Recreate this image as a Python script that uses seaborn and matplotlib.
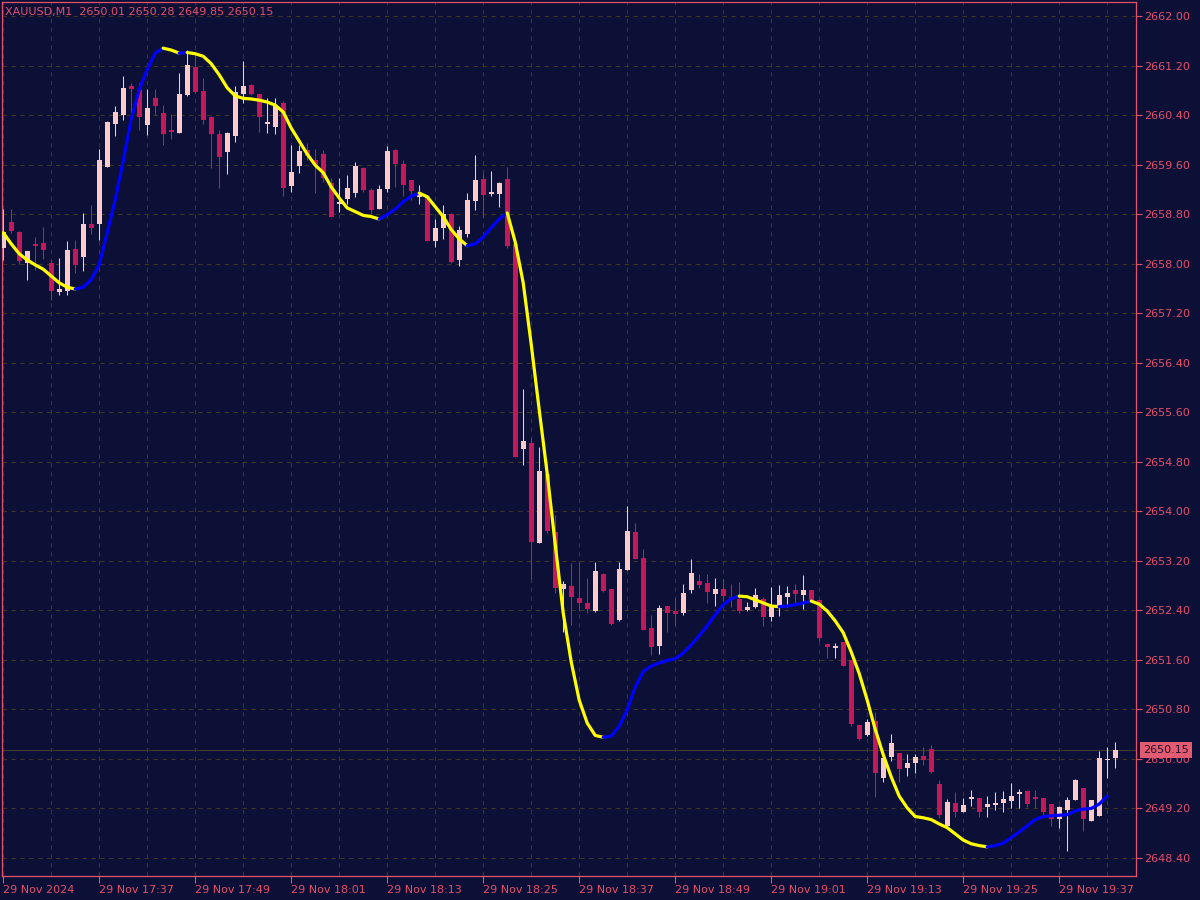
import numpy as np
import matplotlib
matplotlib.use("Agg")
import matplotlib.pyplot as plt
import matplotlib.transforms as mtransforms
import seaborn as sns

# ---- data (XAUUSD M1, 29 Nov 2024 17:25 - 19:44) ----
opens = [
    2658.25, 2658.67, 2658.51, 2658.01, 2658.32, 2658.34, 2658.01, 2657.54, 2657.56, 2658.24,
    2658.11, 2658.64, 2658.64, 2659.56, 2660.25, 2660.40, 2660.87, 2660.81, 2660.24, 2660.68,
    2660.43, 2660.16, 2660.11, 2660.73, 2661.18, 2660.79, 2660.37, 2660.09, 2659.80, 2660.06,
    2660.74, 2660.89, 2660.74, 2660.25, 2660.20, 2660.59, 2659.25, 2659.58, 2659.83, 2659.67,
    2659.77, 2659.30, 2658.97, 2659.05, 2659.14, 2659.55, 2659.19, 2658.88, 2659.21, 2659.83,
    2659.61, 2659.35, 2659.08, 2659.09, 2658.37, 2658.58, 2658.80, 2658.06, 2658.48, 2659.01,
    2659.37, 2659.13, 2659.13, 2659.37, 2658.32, 2655.01, 2655.11, 2653.49, 2654.60, 2653.66,
    2652.74, 2652.79, 2652.60, 2652.52, 2652.39, 2652.99, 2652.74, 2652.25, 2653.05, 2653.66,
    2653.24, 2652.12, 2651.83, 2652.47, 2652.39, 2652.36, 2652.73, 2652.87, 2652.84, 2652.66,
    2652.74, 2652.62, 2652.58, 2652.41, 2652.46, 2652.58, 2652.30, 2652.47, 2652.62, 2652.73,
    2652.65, 2652.73, 2652.57, 2651.86, 2651.79, 2651.89, 2651.60, 2650.55, 2650.38, 2650.61,
    2649.69, 2650.03, 2650.09, 2649.85, 2649.93, 2650.04, 2650.16, 2649.60, 2648.92, 2649.29,
    2649.15, 2649.36, 2649.37, 2649.23, 2649.26, 2649.29, 2649.32, 2649.44, 2649.48, 2649.39,
    2649.37, 2649.28, 2649.03, 2649.18, 2649.34, 2649.53, 2649.00, 2649.08, 2649.98, 2650.01,
]
highs = [
    2658.88, 2658.88, 2658.53, 2658.21, 2658.43, 2658.59, 2658.06, 2658.09, 2658.37, 2658.38,
    2658.82, 2658.95, 2659.85, 2660.30, 2660.54, 2661.03, 2660.92, 2660.92, 2660.82, 2660.82,
    2660.56, 2660.41, 2661.08, 2661.45, 2661.37, 2661.00, 2660.38, 2660.16, 2660.12, 2660.87,
    2661.27, 2660.90, 2660.74, 2660.68, 2660.68, 2660.62, 2659.91, 2659.91, 2659.95, 2659.85,
    2659.83, 2659.38, 2659.38, 2659.43, 2659.64, 2659.56, 2659.22, 2659.27, 2659.90, 2659.85,
    2659.67, 2659.35, 2659.27, 2659.11, 2658.72, 2658.95, 2658.82, 2658.61, 2659.14, 2659.75,
    2659.46, 2659.50, 2659.32, 2659.56, 2658.32, 2655.97, 2655.19, 2655.04, 2654.78, 2653.94,
    2652.87, 2653.16, 2653.18, 2652.92, 2653.18, 2653.00, 2652.74, 2653.18, 2654.08, 2653.81,
    2653.39, 2652.33, 2652.49, 2652.47, 2652.60, 2652.82, 2653.23, 2652.99, 2652.99, 2652.92,
    2652.91, 2652.82, 2652.86, 2652.54, 2652.76, 2652.62, 2652.78, 2652.81, 2652.79, 2652.82,
    2652.97, 2652.73, 2652.57, 2651.86, 2651.88, 2651.89, 2651.60, 2650.55, 2650.64, 2650.76,
    2650.11, 2650.40, 2650.09, 2650.08, 2650.08, 2650.19, 2650.22, 2649.66, 2649.36, 2649.47,
    2649.37, 2649.50, 2649.37, 2649.40, 2649.47, 2649.48, 2649.61, 2649.52, 2649.50, 2649.50,
    2649.37, 2649.28, 2649.24, 2649.39, 2649.68, 2649.53, 2649.34, 2650.13, 2650.19, 2650.28,
]
lows = [
    2658.06, 2658.50, 2657.99, 2657.74, 2657.90, 2658.08, 2657.41, 2657.50, 2657.50, 2657.85,
    2657.88, 2658.48, 2658.38, 2659.56, 2660.06, 2660.32, 2660.40, 2660.16, 2660.08, 2660.40,
    2659.91, 2660.01, 2660.11, 2660.71, 2660.76, 2660.25, 2659.55, 2659.22, 2659.45, 2659.96,
    2660.59, 2660.73, 2660.12, 2660.11, 2660.09, 2659.09, 2659.16, 2659.46, 2659.67, 2659.14,
    2659.32, 2658.76, 2658.84, 2658.97, 2659.08, 2659.16, 2658.80, 2658.88, 2659.16, 2659.24,
    2659.09, 2659.03, 2658.97, 2658.37, 2658.27, 2658.40, 2658.01, 2657.96, 2658.43, 2658.87,
    2658.76, 2659.09, 2658.92, 2658.25, 2654.88, 2654.75, 2652.90, 2653.49, 2653.65, 2652.68,
    2652.05, 2652.17, 2652.39, 2652.36, 2652.38, 2652.70, 2652.17, 2652.23, 2653.05, 2653.23,
    2652.09, 2651.68, 2651.70, 2652.05, 2652.17, 2652.33, 2652.68, 2652.76, 2652.52, 2652.47,
    2652.55, 2652.46, 2652.36, 2652.39, 2652.44, 2652.14, 2652.23, 2652.31, 2652.46, 2652.52,
    2652.42, 2652.54, 2651.91, 2651.63, 2651.63, 2651.50, 2650.53, 2650.30, 2650.37, 2649.38,
    2649.63, 2649.97, 2649.63, 2649.72, 2649.77, 2649.90, 2649.77, 2649.05, 2648.92, 2649.07,
    2649.15, 2649.24, 2649.07, 2649.07, 2649.18, 2649.15, 2649.20, 2649.21, 2649.23, 2649.21,
    2649.07, 2648.92, 2648.89, 2648.52, 2649.34, 2648.84, 2649.00, 2649.08, 2649.69, 2649.85,
]
closes = [
    2658.51, 2658.53, 2658.04, 2658.21, 2658.29, 2658.22, 2657.56, 2657.59, 2658.22, 2657.98,
    2658.64, 2658.58, 2659.67, 2660.29, 2660.45, 2660.84, 2660.82, 2660.37, 2660.51, 2660.54,
    2660.09, 2660.12, 2660.74, 2661.21, 2660.77, 2660.32, 2660.09, 2659.72, 2660.11, 2660.77,
    2660.87, 2660.74, 2660.37, 2660.29, 2660.54, 2659.22, 2659.48, 2659.82, 2659.74, 2659.59,
    2659.38, 2658.76, 2658.98, 2659.22, 2659.58, 2659.19, 2658.87, 2659.21, 2659.82, 2659.61,
    2659.27, 2659.17, 2659.11, 2658.37, 2658.58, 2658.80, 2658.03, 2658.54, 2659.03, 2659.35,
    2659.11, 2659.16, 2659.30, 2658.29, 2654.88, 2655.14, 2653.50, 2654.65, 2653.68, 2652.76,
    2652.82, 2652.62, 2652.52, 2652.42, 2653.03, 2652.71, 2652.18, 2653.07, 2653.68, 2653.23,
    2652.09, 2651.80, 2652.44, 2652.36, 2652.34, 2652.68, 2653.00, 2652.81, 2652.70, 2652.74,
    2652.63, 2652.57, 2652.39, 2652.46, 2652.65, 2652.30, 2652.46, 2652.65, 2652.68, 2652.66,
    2652.73, 2652.57, 2651.96, 2651.81, 2651.83, 2651.50, 2650.56, 2650.32, 2650.59, 2649.77,
    2650.01, 2650.26, 2649.83, 2649.93, 2650.03, 2649.98, 2649.79, 2649.10, 2649.31, 2649.15,
    2649.26, 2649.39, 2649.15, 2649.28, 2649.29, 2649.36, 2649.40, 2649.45, 2649.28, 2649.36,
    2649.15, 2649.03, 2649.23, 2649.34, 2649.66, 2649.03, 2649.34, 2650.01, 2650.00, 2650.15,
]
# smoothed trend line (yellow = falling, blue = rising)
trend = [
    2658.50, 2658.32, 2658.16, 2658.06, 2657.98, 2657.91, 2657.80, 2657.69, 2657.62, 2657.59,
    2657.62, 2657.74, 2657.98, 2658.50, 2659.03, 2659.66, 2660.33, 2660.81, 2661.13, 2661.40,
    2661.48, 2661.45, 2661.40, 2661.41, 2661.39, 2661.35, 2661.23, 2661.05, 2660.84, 2660.71,
    2660.67, 2660.66, 2660.64, 2660.61, 2660.56, 2660.45, 2660.19, 2659.98, 2659.77, 2659.59,
    2659.47, 2659.24, 2659.06, 2658.90, 2658.84, 2658.78, 2658.76, 2658.72, 2658.79, 2658.88,
    2659.00, 2659.09, 2659.14, 2659.08, 2658.92, 2658.76, 2658.55, 2658.40, 2658.29, 2658.32,
    2658.43, 2658.58, 2658.72, 2658.82, 2658.35, 2657.69, 2656.70, 2655.64, 2654.61, 2653.47,
    2652.36, 2651.57, 2650.95, 2650.58, 2650.38, 2650.35, 2650.37, 2650.53, 2650.79, 2651.16,
    2651.41, 2651.50, 2651.55, 2651.59, 2651.62, 2651.71, 2651.84, 2651.99, 2652.15, 2652.33,
    2652.49, 2652.59, 2652.63, 2652.62, 2652.57, 2652.52, 2652.47, 2652.46, 2652.47, 2652.49,
    2652.52, 2652.55, 2652.50, 2652.39, 2652.23, 2652.04, 2651.73, 2651.38, 2650.95, 2650.48,
    2650.07, 2649.71, 2649.40, 2649.21, 2649.07, 2649.05, 2649.02, 2648.95, 2648.89, 2648.79,
    2648.69, 2648.63, 2648.60, 2648.58, 2648.60, 2648.64, 2648.73, 2648.82, 2648.92, 2649.02,
    2649.07, 2649.08, 2649.09, 2649.10, 2649.16, 2649.19, 2649.20, 2649.27, 2649.40,
]

x_tick_pos = [0, 12, 24, 36, 48, 60, 72, 84, 96, 108, 120, 132]
x_tick_labels = ["29 Nov 2024", "29 Nov 17:37", "29 Nov 17:49", "29 Nov 18:01",
                 "29 Nov 18:13", "29 Nov 18:25", "29 Nov 18:37", "29 Nov 18:49",
                 "29 Nov 19:01", "29 Nov 19:13", "29 Nov 19:25", "29 Nov 19:37"]
x_grid_pos = [6, 18, 30, 42, 54, 66, 78, 90, 102, 114, 126, 138]
y_ticks = [2648.40, 2649.20, 2650.00, 2650.80, 2651.60, 2652.40, 2653.20, 2654.00,
           2654.80, 2655.60, 2656.40, 2657.20, 2658.00, 2658.80, 2659.60, 2660.40,
           2661.20, 2662.00]
symbol = "XAUUSD,M1"
last_price = 2650.15

# ---- style ----
BG = "#0d1036"
FG = "#e4506a"
GRID = "#3b3525"
BULL = "#f8caca"
BEAR = "#c3185a"

sns.set_style("dark", {"axes.facecolor": BG, "figure.facecolor": BG})
plt.rcParams["font.family"] = ["DejaVu Sans"]
plt.rcParams["font.size"] = 8

fig = plt.figure(figsize=(12, 9), dpi=100)
fig.patch.set_facecolor(BG)
ax = fig.add_axes([2 / 1200, 24 / 900, 1134 / 1200, 874 / 900])
ax.set_facecolor(BG)

idx = np.arange(len(opens))
o = np.array(opens)
c = np.array(closes)
h = np.array(highs)
l = np.array(lows)
up = c >= o

# wicks
ax.vlines(idx[up], l[up], h[up], color=BULL, lw=0.75, zorder=2)
ax.vlines(idx[~up], l[~up], h[~up], color=BEAR, lw=0.75, zorder=2)
# bodies (min height so dojis still show)
body_lo = np.minimum(o, c)
body_h = np.maximum(np.abs(c - o), 0.025)
ax.bar(idx[up], body_h[up], bottom=body_lo[up], width=0.62, color=BULL, lw=0, zorder=3)
ax.bar(idx[~up], body_h[~up], bottom=body_lo[~up], width=0.62, color=BEAR, lw=0, zorder=3)

# trend line, coloured by direction
tv = np.array(trend)
seg_up = np.diff(tv) >= 0
start = 0
for i in range(1, len(seg_up) + 1):
    if i == len(seg_up) or seg_up[i] != seg_up[start]:
        xs = idx[start:i + 1]
        ys = tv[start:i + 1]
        sns.lineplot(x=xs, y=ys, ax=ax, color="#0000ff" if seg_up[start] else "#ffff00",
                     lw=2.3, estimator=None, sort=False, zorder=4)
        start = i

# current price line
ax.axhline(last_price, color="#3d3a33", lw=0.8, zorder=1)

# axes, grid, ticks
ax.set_xlim(-0.15, 141.6)
ax.set_ylim(2648.109, 2662.226)
ax.set_yticks(y_ticks)
ax.set_yticklabels([f"{v:.2f}" for v in y_ticks])
ax.yaxis.tick_right()
ax.set_xticks(x_tick_pos)
ax.set_xticklabels(x_tick_labels, ha="left")
ax.set_xticks(x_grid_pos, minor=True)
ax.tick_params(axis="x", which="major", length=5, width=0.8, color=FG,
               labelcolor=FG, labelsize=8, pad=1.5, bottom=True)
ax.tick_params(axis="x", which="minor", length=0)
ax.tick_params(axis="y", length=4, width=0.8, color=FG, labelcolor=FG,
               labelsize=8, pad=2, right=True, left=False)
ax.grid(True, which="both", axis="both", color=GRID, lw=0.8, linestyle=(0, (4, 4)))
ax.set_axisbelow(True)
ax.set_xlabel("")
ax.set_ylabel("")
for sp in ax.spines.values():
    sp.set_visible(True)
    sp.set_color(FG)
    sp.set_linewidth(0.9)

# last price tag on the right axis
trans = mtransforms.blended_transform_factory(ax.transAxes, ax.transData)
ax.text(1.0065, last_price, f"{last_price:.2f}", transform=trans, ha="left", va="center",
        fontsize=8, color="#1a1030", clip_on=False, zorder=10,
        bbox=dict(boxstyle="square,pad=0.28", fc="#e35b70", ec="none"))

# header
fig.text(5 / 1200, 1 - 12 / 900,
         f"{symbol}  {opens[-1]:.2f} {highs[-1]:.2f} {lows[-1]:.2f} {closes[-1]:.2f}",
         color=FG, fontsize=8, ha="left", va="center")

fig.savefig("out.png", dpi=100, facecolor=BG)
